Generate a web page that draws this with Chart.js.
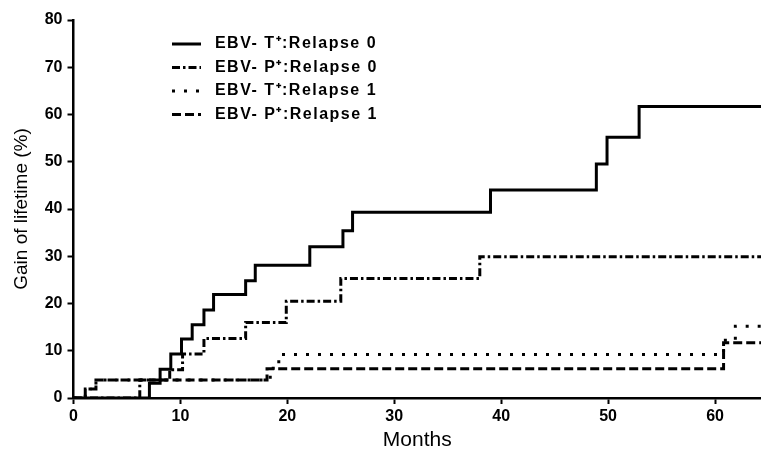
<!DOCTYPE html>
<html>
<head>
<meta charset="utf-8">
<script src="https://cdn.jsdelivr.net/npm/chart.js@4/dist/chart.umd.min.js"></script>
<style>
  html, body { margin: 0; background: #fff; }
</style>
</head>
<body>
<canvas id="km" width="761" height="461"></canvas>
<script>
// month of each step and the value after it
const tPosRel0Months = [0, 7.1, 8.1, 9.1, 10.1, 11.1, 12.2, 13.1, 16.1, 17.0, 22.1, 25.2, 26.1, 39.0, 48.9, 49.9, 52.9, 65];
const tPosRel0Gain   = [0, 3.1, 6.1, 9.3, 12.5, 15.5, 18.6, 21.9, 24.8, 28.1, 32.0, 35.4, 39.3, 44.0, 49.5, 55.2, 61.7, 61.7];

const pPosRel0Months = [0, 6.2, 9.0, 10.2, 12.2, 16.1, 19.9, 25.0, 38.0, 65];
const pPosRel0Gain   = [0, 3.8, 6.0, 9.3, 12.6, 16.0, 20.5, 25.3, 29.9, 29.9];

const tPosRel1Months = [0, 1.1, 2.1, 18.4, 19.2, 60.8, 61.9, 65];
const tPosRel1Gain   = [0, 1.9, 3.8, 6.3, 9.2, 12.2, 15.2, 15.2];

const pPosRel1Months = [0, 1.1, 2.1, 18.1, 60.8, 65];
const pPosRel1Gain   = [0, 1.9, 3.8, 6.2, 11.7, 11.7];

const seriesLabels = ['EBV- T\u207A:Relapse 0', 'EBV- P\u207A:Relapse 0', 'EBV- T\u207A:Relapse 1', 'EBV- P\u207A:Relapse 1'];
const xTicks = [0, 10, 20, 30, 40, 50, 60];
const yTicks = [0, 10, 20, 30, 40, 50, 60, 70, 80];

const FONT = "'Liberation Sans', Arial, sans-serif";
const pts = (xs, ys) => xs.map((m, i) => ({ x: m, y: ys[i] }));

function line(label, data, dash) {
    return {
        label,
        data,
        stepped: 'before',
        borderColor: '#000',
        backgroundColor: '#000',
        borderWidth: 3,
        borderDash: dash,
        pointRadius: 0,
        fill: false
    };
}

// put the legend inside the plot, upper left, with a little letter spacing
const legendSpot = {
    id: 'legendSpot',
    afterLayout(chart) {
        const lg = chart.legend;
        lg.left = 164.5;
        lg.top = 28.5;
        if (!lg._spaced) {
            const draw = lg.draw.bind(lg);
            lg.draw = function () {
                const c = chart.ctx;
                c.save();
                c.letterSpacing = '1.5px';
                draw();
                c.restore();
            };
            lg._spaced = true;
        }
    }
};

const axisBits = {
    border: { display: true, color: '#000', width: 2.5 },
    grid: { display: true, drawOnChartArea: false, drawTicks: true, tickLength: 6, tickWidth: 2, color: '#000' }
};

new Chart(document.getElementById('km'), {
    type: 'line',
    data: {
        datasets: [
            line(seriesLabels[0], pts(tPosRel0Months, tPosRel0Gain), []),
            line(seriesLabels[1], pts(pPosRel0Months, pPosRel0Gain), [8, 3, 2.5, 3]),
            line(seriesLabels[2], pts(tPosRel1Months, tPosRel1Gain), [3, 9]),
            line(seriesLabels[3], pts(pPosRel1Months, pPosRel1Gain), [9, 4])
        ]
    },
    options: {
        responsive: false,
        animation: false,
        layout: { padding: { top: 20, right: 0, bottom: 0, left: 0 } },
        plugins: {
            tooltip: { enabled: false },
            legend: {
                position: 'chartArea',
                align: 'start',
                labels: {
                    usePointStyle: true,
                    pointStyle: 'line',
                    pointStyleWidth: 29,
                    boxHeight: 3,
                    padding: 7.5,
                    color: '#000',
                    font: { family: FONT, size: 16, weight: 'bold' },
                    // point-style items lose the dataset dash, so put it back
                    generateLabels(chart) {
                        const items = Chart.defaults.plugins.legend.labels.generateLabels(chart);
                        items.forEach(it => {
                            const ds = chart.data.datasets[it.datasetIndex];
                            it.lineDash = ds.borderDash;
                            it.lineWidth = ds.borderWidth;
                            it.strokeStyle = ds.borderColor;
                            it.text = ' ' + it.text;
                        });
                        return items;
                    }
                }
            }
        },
        scales: {
            x: {
                type: 'linear',
                min: 0,
                max: 64.3,
                afterFit: s => { s.height = 63; },
                afterBuildTicks: s => { s.ticks = xTicks.map(v => ({ value: v })); },
                ticks: { color: '#000', padding: 3, font: { family: FONT, size: 16, weight: 'bold' } },
                title: { display: true, text: 'Months', color: '#000', padding: { top: 4, bottom: 8 }, font: { family: FONT, size: 21 } },
                ...axisBits
            },
            y: {
                min: 0,
                max: 80,
                afterFit: s => { s.width = 73.5; },
                afterBuildTicks: s => { s.ticks = yTicks.map(v => ({ value: v })); },
                ticks: { color: '#000', padding: 5, font: { family: FONT, size: 16, weight: 'bold' } },
                title: { display: true, text: 'Gain of lifetime (%)', color: '#000', padding: { top: 10, bottom: 0 }, font: { family: FONT, size: 19 } },
                ...axisBits
            }
        }
    },
    plugins: [legendSpot]
});
</script>
</body>
</html>
